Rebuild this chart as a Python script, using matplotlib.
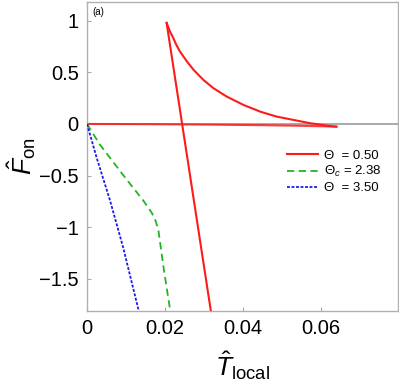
import matplotlib
matplotlib.use("Agg")
import matplotlib.pyplot as plt
from matplotlib.lines import Line2D

plt.rcParams['font.family'] = ['Liberation Sans', 'DejaVu Sans']
plt.rcParams['mathtext.fontset'] = 'custom'
plt.rcParams['mathtext.rm'] = 'Liberation Sans'
plt.rcParams['mathtext.it'] = 'Liberation Sans:italic'

# Theta = 0.50 : upper branch, steep branch, lower branch
red_upper_x = [0.0204, 0.0212, 0.0221, 0.0229, 0.0238, 0.0256, 0.0273, 0.0298, 0.0324, 0.0358,
               0.0401, 0.0444, 0.0486, 0.0529, 0.0572, 0.0614, 0.0638]
red_upper_y = [0.978, 0.900, 0.832, 0.765, 0.702, 0.605, 0.524, 0.427, 0.346, 0.265,
               0.184, 0.119, 0.071, 0.039, 0.007, -0.016, -0.026]
red_steep_x = [0.0204, 0.0317]
red_steep_y = [0.978, -1.80]
red_lower_x = [0.0, 0.015, 0.030, 0.045, 0.055, 0.064]
red_lower_y = [0.0, -0.002, -0.006, -0.012, -0.018, -0.026]

# Theta_c = 2.38
green_x = [0.0, 0.0033, 0.0102, 0.0144, 0.0166, 0.0176, 0.0183, 0.0196, 0.0213]
green_y = [0.0, -0.20, -0.54, -0.74, -0.86, -0.94, -1.03, -1.385, -1.80]

# Theta = 3.50
blue_x = [0.0, 0.0025, 0.0059, 0.0093, 0.0132]
blue_y = [0.0, -0.33, -0.74, -1.20, -1.80]

legend_labels = ['Θ  = 0.50', 'Θ$_c$ = 2.38', 'Θ  = 3.50']
xticks = [0, 0.02, 0.04, 0.06]
xticklabels = ['0', '0.02', '0.04', '0.06']
yticks = [-1.5, -1, -0.5, 0, 0.5, 1]
yticklabels = ['\u22121.5', '\u22121', '\u22120.5', '0', '0.5', '1']

W, H = 399, 381
fig = plt.figure(figsize=(W / 100, H / 100), dpi=100)
ax = fig.add_axes([87 / W, 1 - 311 / H, (398 - 87) / W, (311 - 2) / H])

red = '#ff1a1a'
green = '#22b422'
blue = '#1a1aee'

ax.axhline(0, color='#999999', lw=1.2, zorder=1)
ax.plot(red_lower_x, red_lower_y, color=red, lw=1.5, zorder=2, alpha=0.85)
ax.plot(red_upper_x, red_upper_y, color=red, lw=1.5, zorder=3)
ax.plot(red_steep_x, red_steep_y, color=red, lw=1.5, zorder=3)
ax.plot(green_x, green_y, color=green, lw=1.3, dashes=(4, 2.5), zorder=3)
ax.plot(blue_x, blue_y, color=blue, lw=1.3, dashes=(1.6, 0.9), zorder=3)

ax.set_xlim(0, 0.0797)
ax.set_ylim(-1.81, 1.18)
ax.set_xticks(xticks)
ax.set_xticklabels(xticklabels)
ax.set_yticks(yticks)
ax.set_yticklabels(yticklabels)
ax.tick_params(direction='in', length=3, width=0.8, color='#aaaaaa', labelsize=14.5, pad=6)
for s in ax.spines.values():
    s.set_color('#b0b0b0')
    s.set_linewidth(1.0)

ax.set_xlabel(r'$\hat{T}_{\rm local}$', fontsize=19, labelpad=8)
ax.set_ylabel(r'$\hat{F}_{\rm on}$', fontsize=19)
ax.yaxis.set_label_coords(-0.158, 0.5)

ax.text(0.018, 0.985, '(a)', transform=ax.transAxes, fontsize=7, va='top', ha='left')

handles = [
    Line2D([], [], color=red, lw=1.5),
    Line2D([], [], color=green, lw=1.3, dashes=(4, 2.5)),
    Line2D([], [], color=blue, lw=1.3, dashes=(1.6, 0.9)),
]
ax.legend(handles, legend_labels, loc='upper left', bbox_to_anchor=(0.625, 0.54),
          frameon=False, fontsize=9.5, handlelength=2.4, handletextpad=0.4,
          labelspacing=0.2, borderaxespad=0)

fig.savefig('out.png', dpi=100)
